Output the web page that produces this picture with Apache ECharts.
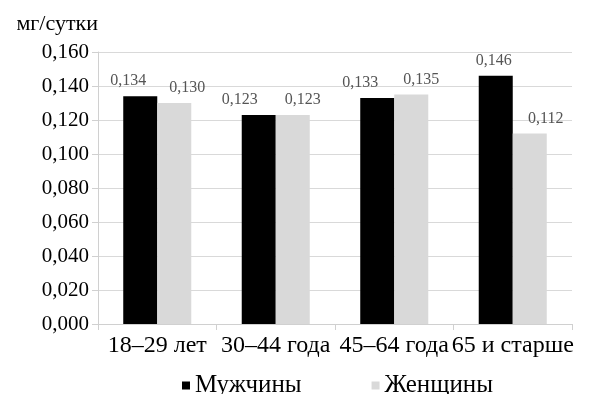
<!DOCTYPE html>
<html><head><meta charset="utf-8">
<script src="https://cdn.jsdelivr.net/npm/echarts@6/dist/echarts.min.js"></script>
<style>html,body{margin:0;padding:0;background:#fff}#c{width:590px;height:394px}</style>
</head><body><div id="c"></div>
<script>
var categories = ['18–29 лет', '30–44 года', '45–64 года', '65 и старше'];
var men = [0.134, 0.123, 0.133, 0.146];
var women = [0.130, 0.123, 0.135, 0.112];
var seriesNames = ['Мужчины', 'Женщины'];
var yUnit = 'мг/сутки';

// label horizontal nudges (style only), per category: [men, women]
var labelNudge = [[-12, 13], [-19, 10], [-17, 10], [-2, 16]];

var font = "'Liberation Serif', serif";
function fmt(v){ return v.toFixed(3).replace('.', ','); }
function build(values, si){
  return values.map(function(v, i){
    return {value: v, label: {offset: [labelNudge[i][si], 0]}};
  });
}
var labelStyle = {show: true, position: 'top', distance: 7, fontFamily: font, fontSize: 16, color: '#555555',
  formatter: function(p){ return fmt(p.value); }};
var chart = echarts.init(document.getElementById('c'));
chart.setOption({
  animation: false,
  textStyle: {fontFamily: font},
  grid: {left: 98, right: 18, top: 52, bottom: 70},
  legend: {
    top: 368, left: 177, itemWidth: 8, itemHeight: 8, itemGap: 70, icon: 'rect',
    textStyle: {fontFamily: font, fontSize: 25, color: '#000'},
    data: seriesNames
  },
  xAxis: {
    type: 'category', data: categories,
    axisLine: {lineStyle: {color: '#d0d0d0', width: 1}},
    axisTick: {show: true, length: 6, lineStyle: {color: '#d0d0d0'}},
    axisLabel: {fontFamily: font, fontSize: 24, color: '#000', margin: 10, interval: 0}
  },
  yAxis: {
    type: 'value', min: 0, max: 0.16, interval: 0.02,
    name: yUnit, nameLocation: 'end', nameGap: 17,
    nameTextStyle: {fontFamily: font, fontSize: 22, color: '#000', align: 'right', padding: [0, 0, 0, 0]},
    axisLine: {show: true, lineStyle: {color: '#d0d0d0'}},
    axisTick: {show: true, length: 6, lineStyle: {color: '#d0d0d0'}},
    splitLine: {lineStyle: {color: '#d9d9d9', width: 1}},
    axisLabel: {fontFamily: font, fontSize: 21, color: '#000', margin: 9, formatter: function(v){ return fmt(v); }}
  },
  series: [
    {name: seriesNames[0], type: 'bar', data: build(men, 0), barGap: '0%', barCategoryGap: '42.6%',
     itemStyle: {color: '#000000'}, label: labelStyle},
    {name: seriesNames[1], type: 'bar', data: build(women, 1), barGap: '0%', barCategoryGap: '42.6%',
     itemStyle: {color: '#d9d9d9'}, label: labelStyle}
  ]
});
</script></body></html>
